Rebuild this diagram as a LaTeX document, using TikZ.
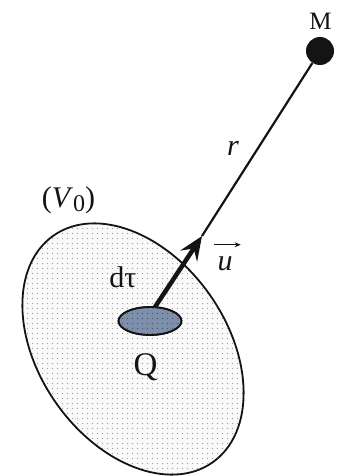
\documentclass[tikz,border=0pt]{standalone}
\usepackage{fontspec}
\setmainfont{Liberation Serif}
\usetikzlibrary{shapes.geometric,arrows.meta,patterns.meta}
\definecolor{elemblue}{RGB}{125,143,170}
\definecolor{inkc}{RGB}{20,20,20}
\tikzdeclarepattern{
  name=finedots,
  type=uncolored,
  bottom left={(-.1pt,-.1pt)},
  top right={(5.1pt,5.1pt)},
  tile size={(5pt,5pt)},
  code={\fill (2.5pt,2.5pt) circle (0.6pt);}
}
\begin{document}
\begin{tikzpicture}[x=1pt,y=-1pt,
  lbl/.style={text=inkc, inner sep=0pt},
  volume/.style={draw=inkc, line width=1.8pt},
  elem/.style={ellipse, draw=inkc, line width=1.7pt, fill=elemblue, minimum width=63pt, minimum height=28pt, inner sep=0pt},
  vecarrow/.style={draw=inkc, line width=4.5pt, -{Stealth[length=24pt,width=20pt,inset=9pt]}},
  thinline/.style={draw=inkc, line width=2.2pt},
  overarrow/.style={draw=inkc, line width=1.2pt, -{Stealth[length=6pt,width=5pt]}},
  masspt/.style={circle, fill=inkc, minimum size=28pt, inner sep=0pt}
]
\useasboundingbox (0,0) rectangle (337,476);
% large volume V0
\fill[gray!5, rotate around={35:(133,349)}] (133,349) ellipse [x radius=94, y radius=138.5];
\fill[pattern=finedots, pattern color=gray!75, rotate around={35:(133,349)}] (133,349) ellipse [x radius=94, y radius=138.5];
\draw[volume, rotate around={35:(133,349)}] (133,349) ellipse [x radius=94, y radius=138.5];
% element
\node[elem] (dt) at (150,321) {};
\fill[pattern=finedots, pattern color=elemblue!60!black] (150,321) ellipse [x radius=30, y radius=13];
\node[elem, fill=none] at (150,321) {};
\coordinate (start) at (155,307);
\coordinate (tip) at (202,236);
\node[masspt] (M) at (320,51) {};
\draw[thinline] (tip) -- (M);
\draw[vecarrow] (start) -- (tip);
% labels
\node[lbl, font=\fontsize{25}{25}\selectfont] (Mlab) at (320.5,21) {M};
\node[lbl, font=\fontsize{30}{30}\selectfont\itshape] (rlab) at (233,148) {r};
\node[lbl, font=\fontsize{30}{30}\selectfont] (Vlab) at (68.5,200) {(\textit{V}\raisebox{-0.3ex}{\fontsize{24}{24}\selectfont 0})};
\node[lbl, font=\fontsize{30}{30}\selectfont] (dtlab) at (123,277) {dτ};
\node[lbl, font=\fontsize{30}{30}\selectfont\itshape] (ulab) at (225,264) {u};
\coordinate (uarrL) at ([shift={(-3,-12)}]ulab.north west);
\coordinate (uarrR) at ([shift={(8,-12)}]ulab.north east);
\draw[overarrow] (uarrL) -- (uarrR);
\node[lbl, font=\fontsize{33}{33}\selectfont] (Qlab) at (145.5,367) {Q};
\end{tikzpicture}
\end{document}
